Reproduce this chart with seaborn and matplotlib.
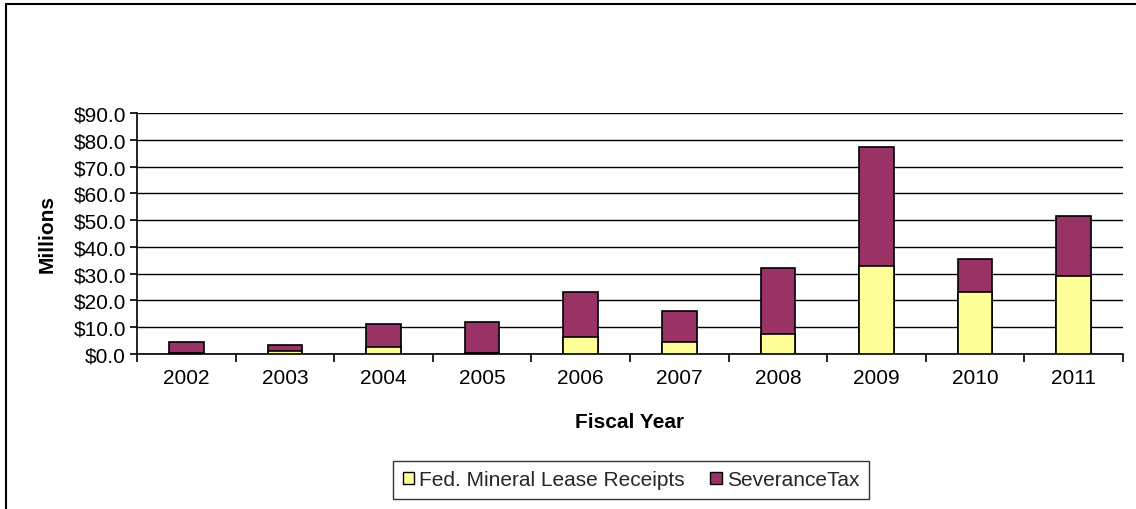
import matplotlib
matplotlib.use("Agg")
import matplotlib.pyplot as plt
import seaborn as sns
import pandas as pd
from matplotlib.patches import Patch
from matplotlib.lines import Line2D
from matplotlib.ticker import FuncFormatter, MultipleLocator, FixedLocator

years = ["2002", "2003", "2004", "2005", "2006", "2007", "2008", "2009", "2010", "2011"]
fed_mineral = [0.5, 1.1, 2.6, 0.5, 6.2, 4.5, 7.5, 33.0, 23.2, 29.2]
severance = [4.0, 2.3, 8.6, 11.5, 17.0, 11.5, 24.8, 44.2, 12.2, 22.5]
series_names = ["Fed. Mineral Lease Receipts", "SeveranceTax"]
colors = ["#FFFF99", "#993366"]

sns.set_theme(style="white")
plt.rcParams["font.family"] = ["Liberation Sans", "DejaVu Sans"]

FS = 15

df = pd.DataFrame({"year": years, "fed": fed_mineral, "sev": severance})
df["total"] = df["fed"] + df["sev"]

fig = plt.figure(figsize=(11.36, 5.10), dpi=100)
ax = fig.add_axes([137/1136, 1 - 355/510, (1123-137)/1136, (355-114)/510])

sns.barplot(data=df, x="year", y="total", color=colors[1], edgecolor="black",
            linewidth=1.2, width=0.35, saturation=1, ax=ax, zorder=3)
sns.barplot(data=df, x="year", y="fed", color=colors[0], edgecolor="black",
            linewidth=1.2, width=0.35, saturation=1, ax=ax, zorder=4)

ax.set_xlim(-0.5, len(years) - 0.5)
ax.set_ylim(0, 90)
ax.yaxis.set_major_locator(MultipleLocator(10))
ax.yaxis.set_major_formatter(FuncFormatter(lambda v, p: f"${v:.1f}"))
ax.grid(axis="y", color="black", linewidth=1.0, zorder=0)
ax.set_axisbelow(True)

for s in ["top", "right"]:
    ax.spines[s].set_visible(False)
for s in ["left", "bottom"]:
    ax.spines[s].set_visible(True)
    ax.spines[s].set_color("black")
    ax.spines[s].set_linewidth(1.2)

ax.xaxis.set_minor_locator(FixedLocator([i - 0.5 for i in range(len(years) + 1)]))
ax.tick_params(axis="x", which="major", length=0, labelsize=FS, pad=10, colors="black")
ax.tick_params(axis="x", which="minor", length=6, width=1.2, color="black", direction="out", bottom=True)
ax.tick_params(axis="y", which="major", length=5, width=1.2, color="black", direction="out",
               left=True, labelsize=FS, labelcolor="black", pad=3)

ax.set_xlabel("Fiscal Year", fontsize=FS, fontweight="bold", labelpad=18, color="black")
ax.set_ylabel("Millions", fontsize=FS, fontweight="bold", labelpad=12, color="black")

handles = [Patch(facecolor=colors[0], edgecolor="black", linewidth=1.0, label=series_names[0]),
           Patch(facecolor=colors[1], edgecolor="black", linewidth=1.0, label=series_names[1])]
leg = fig.legend(handles=handles, loc="center", bbox_to_anchor=(631/1136, 1 - 481/510),
                 ncol=2, frameon=True, fancybox=False, fontsize=FS, handlelength=0.55,
                 handleheight=0.55, handletextpad=0.25, columnspacing=1.2, borderpad=0.45,
                 borderaxespad=0)
leg.get_frame().set_edgecolor("black")
leg.get_frame().set_linewidth(1.0)

# outer chart border (top and left visible)
fig.add_artist(Line2D([6/1136, 1], [1 - 5/510, 1 - 5/510], color="black", linewidth=1.5,
                      transform=fig.transFigure))
fig.add_artist(Line2D([6/1136, 6/1136], [0, 1 - 5/510], color="black", linewidth=1.5,
                      transform=fig.transFigure))

fig.savefig("out.png", dpi=100)
